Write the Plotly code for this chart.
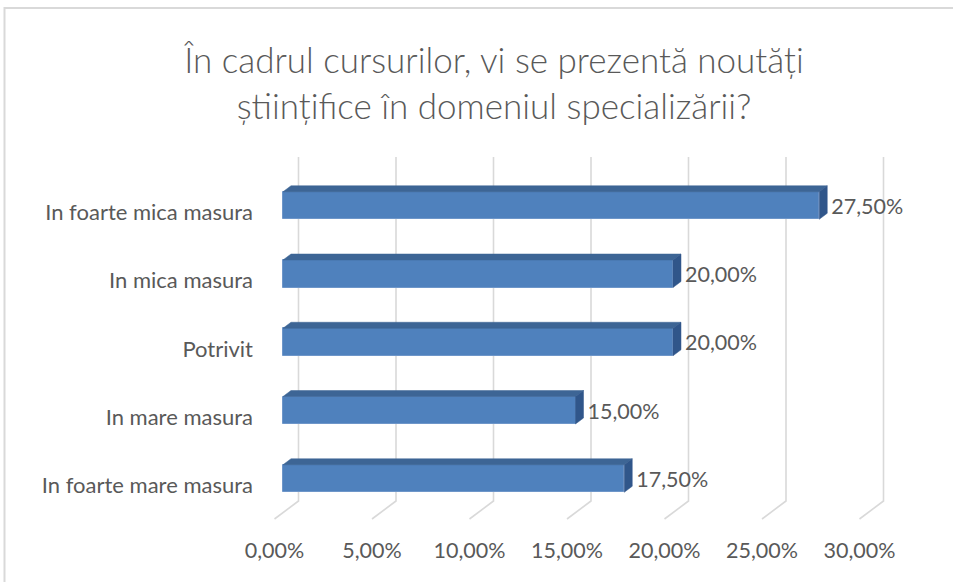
import plotly.graph_objects as go

# ---- data ----
categories = ["In foarte mica masura", "In mica masura", "Potrivit",
              "In mare masura", "In foarte mare masura"]
values = [27.5, 20.0, 20.0, 15.0, 17.5]          # percent
value_labels = ["27,50%", "20,00%", "20,00%", "15,00%", "17,50%"]
tick_values = [0, 5, 10, 15, 20, 25, 30]
tick_labels = ["0,00%", "5,00%", "10,00%", "15,00%", "20,00%", "25,00%", "30,00%"]
title_lines = ["În cadrul cursurilor, vi se prezentă noutăți",
               "științifice în domeniul specializării?"]

# ---- geometry (pixel scale helpers) ----
W, H = 953, 582
PX_PER_X = 19.5          # px per percent
PX_PER_Y = 68.25         # px per category step
L, R, T, B = 262, 0, 140, 52
X0_PX = 283              # pixel of value 0 (front face)
Y0_PX = 478.5            # pixel of bottom category centre (front face)

def xu(px):  # pixel offset -> x units
    return px / PX_PER_X

def yu(px):  # pixel offset (downwards) -> y units
    return -px / PX_PER_Y

x_range = [(L - X0_PX) / PX_PER_X, (W - R - X0_PX) / PX_PER_X]
y_range = [(Y0_PX - (H - B)) / PX_PER_Y, (Y0_PX - T) / PX_PER_Y]

n = len(categories)
ypos = [n - 1 - i for i in range(n)]
bar_w = 27.5 / PX_PER_Y
ddx, ddy = xu(8), -yu(6)           # bar depth
back_dx = xu(15.5)
front_dx = xu(-8.5)
grid_top = (Y0_PX - 157) / PX_PER_Y
grid_back_bottom = (Y0_PX - 501) / PX_PER_Y
grid_front = (Y0_PX - 519) / PX_PER_Y

FRONT = "#4F81BD"
TOP = "#3D6595"
SIDE = "#30568A"
GRID = "#D9D9D9"
TXT = "#595959"
FONT = "Lato"

fig = go.Figure()

# front faces
fig.add_trace(go.Bar(
    y=ypos, x=values, orientation="h", width=bar_w, base=0,
    marker=dict(color=FRONT, line=dict(color="#6E96C9", width=1)),
    hoverinfo="skip", showlegend=False))

# top and side faces
for y, v in zip(ypos, values):
    yt = y + bar_w / 2
    yb = y - bar_w / 2
    fig.add_trace(go.Scatter(
        x=[0, ddx, v + ddx, v, 0], y=[yt, yt + ddy, yt + ddy, yt, yt],
        fill="toself", fillcolor=TOP, mode="lines",
        line=dict(color=TOP, width=0.5), hoverinfo="skip", showlegend=False))
    fig.add_trace(go.Scatter(
        x=[v, v + ddx, v + ddx, v, v], y=[yb, yb + ddy, yt + ddy, yt, yb],
        fill="toself", fillcolor=SIDE, mode="lines",
        line=dict(color=SIDE, width=0.5), hoverinfo="skip", showlegend=False))

# data labels
fig.add_trace(go.Scatter(
    x=[v + ddx + xu(4) for v in values], y=[y + yu(3) for y in ypos],
    mode="text", text=value_labels, textposition="middle right",
    textfont=dict(family=FONT, size=21.5, color=TXT),
    hoverinfo="skip", showlegend=False))

# 3D gridlines (back wall + floor)
shapes = []
for t in tick_values:
    path = (f"M {t + back_dx},{grid_top} L {t + back_dx},{grid_back_bottom} "
            f"L {t + front_dx},{grid_front}")
    shapes.append(dict(type="path", path=path, xref="x", yref="y",
                       line=dict(color=GRID, width=1.6), layer="below"))
# chart border
shapes.append(dict(type="rect", xref="paper", yref="paper",
                   x0=(4.5 - L) / (W - L - R), x1=1.2,
                   y0=-0.3, y1=((H - B) - 8) / (H - T - B),
                   line=dict(color=GRID, width=2), layer="below"))

fig.update_layout(
    width=W, height=H,
    margin=dict(l=L, r=R, t=T, b=B),
    paper_bgcolor="white", plot_bgcolor="white",
    shapes=shapes,
    title=dict(text="<br>".join(title_lines), xref="container", yref="container",
               x=494 / W, xanchor="center", y=1 - 73 / H, yanchor="middle",
               font=dict(family=FONT, size=35, color=TXT, weight=300)),
    xaxis=dict(range=x_range, showgrid=False, zeroline=False, showline=False,
               tickvals=[t + front_dx for t in tick_values], ticktext=tick_labels,
               tickfont=dict(family=FONT, size=21.5, color=TXT), ticks="",
               ticklabelstandoff=5, fixedrange=True),
    yaxis=dict(range=y_range, showgrid=False, zeroline=False, showline=False,
               tickvals=[y + yu(7) for y in ypos], ticktext=categories,
               tickfont=dict(family=FONT, size=22, color=TXT), ticks="",
               ticklabelstandoff=8, fixedrange=True),
    bargap=0,
)

fig.write_html("out.html", config={"displayModeBar": False},
               post_script="document.body.style.margin='0';")
